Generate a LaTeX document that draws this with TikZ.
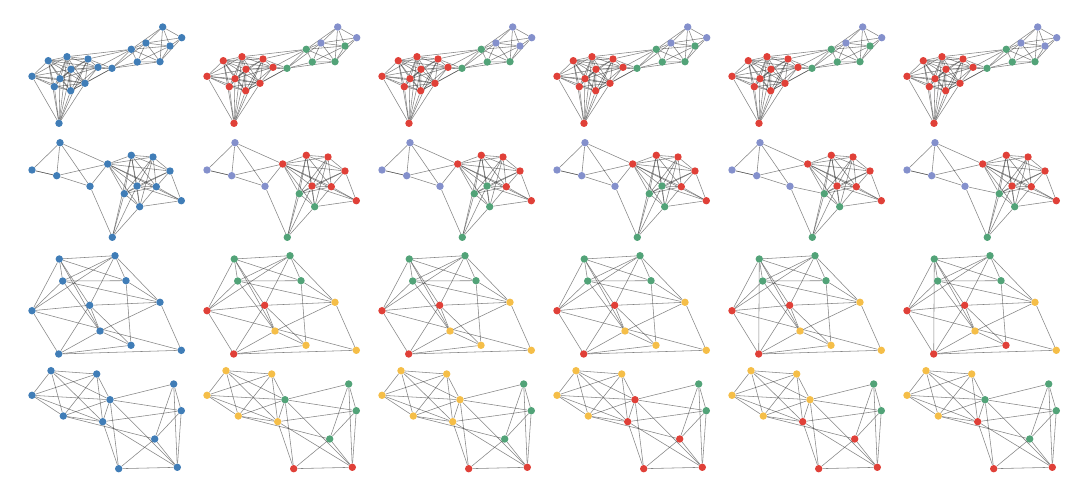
\documentclass[tikz,border=0pt]{standalone}
\usetikzlibrary{backgrounds}
\definecolor{cb}{RGB}{64,125,183}
\definecolor{cp}{RGB}{132,144,204}
\definecolor{cg}{RGB}{82,163,120}
\definecolor{cr}{RGB}{224,64,56}
\definecolor{cy}{RGB}{245,190,72}
\tikzset{
  vtx/.style={circle,inner sep=0pt,minimum size=7.4pt,draw=none},
  edge/.style={draw=black!80,line width=0.55pt,opacity=0.6}
}
\newcommand\assign[3]{\foreach \m in {#2}{\expandafter\xdef\csname K#1\m\endcsname{#3}}}
\newcommand\drawgraph[4]{%
  \foreach \n/\x/\y in #3 {%
    \edef\fc{\csname K#1#2\n\endcsname}%
    \node[vtx,fill=\fc] (\n-#1-#2) at ({\x+175*(#2-1)},{-\y}) {};
  }%
  \begin{pgfonlayer}{background}
  \foreach \ea/\eb in #4 {\draw[edge] (\ea-#1-#2) -- (\eb-#1-#2);}
  \end{pgfonlayer}
}
% ---------- row 1
\def\NodesOne{A/162.7/27, B/181.7/37.7, C/146/43, D/170/46, E/131.3/49.3, F/137.3/62, G/160/61.7, H/48.3/60.7, I/67/56.7, J/88/59, K/71/69.3, L/98/67.3, M/112/68.3, N/32/76.3, O/60/78.7, P/54.3/86.7, Q/70.7/90.7, R/85/83.3, S/59/123.3}
\def\EdgesOne{A/B,A/C,A/D,A/E,A/G,B/C,B/D,B/G,C/D,C/E,C/F,C/G,D/E,D/F,D/G,E/F,E/G,F/G,M/E,M/F,M/C,M/G,L/M,J/M,R/M,K/M,Q/M,L/E,J/E,I/E,H/I,H/J,H/K,H/L,H/N,H/O,H/P,H/Q,H/R,I/J,I/K,I/L,I/N,I/O,I/P,I/Q,I/R,J/K,J/L,J/O,J/Q,J/R,K/L,K/N,K/O,K/P,K/Q,K/R,L/O,L/R,L/Q,N/O,N/P,N/Q,N/R,O/P,O/Q,O/R,P/Q,P/R,Q/R,S/N,S/H,S/P,S/O,S/Q,S/R,S/K,S/I,S/J}
\assign{11}{A,B,C,D,E,F,G,H,I,J,K,L,M,N,O,P,Q,R,S}{cb}
\foreach \c in {2,4,5}{%
  \assign{1\c}{A,B,C}{cp}\assign{1\c}{D,E,F,G,M}{cg}\assign{1\c}{H,I,J,K,L,N,O,P,Q,R,S}{cr}}
\foreach \c in {3,6}{%
  \assign{1\c}{A,B,C,D}{cp}\assign{1\c}{E,F,G,M}{cg}\assign{1\c}{H,I,J,K,L,N,O,P,Q,R,S}{cr}}
% ---------- row 2
\def\NodesTwo{a/60/142.7, b/32/170, c/56.7/175.7, d/90/186.3, e/107.7/164, f/131.3/155.3, g/153/157, h/170/171, i/137/186, j/156.3/186.7, k/124.3/193.7, l/139.7/206.7, m/181.3/200.7, n/112.3/237.3}
\def\EdgesTwoA{a/b,a/c,a/d,a/e,b/c,b/c,c/e,c/d,d/n,d/e,e/f,e/g,e/h,e/i,e/k,e/j,e/l,e/m,f/g,f/h,f/i,f/k,f/l,f/j,g/h,g/i,g/j,g/k,g/l,h/i,h/j,h/m,h/k,i/j,i/k,i/l,i/m,j/l,j/m,j/k,k/l,k/n,l/n,l/m,i/n,f/n}
\def\EdgesTwoB{a/b,a/c,a/d,a/e,b/c,b/c,c/e,c/d,d/n,d/k,e/f,e/g,e/h,e/i,e/k,e/j,e/l,e/m,f/g,f/h,f/i,f/k,f/l,f/j,g/h,g/i,g/j,g/k,g/l,h/i,h/j,h/m,h/k,i/j,i/k,i/l,i/m,j/l,j/m,j/k,k/l,k/n,l/n,l/m,i/n,f/n}
\assign{21}{a,b,c,d,e,f,g,h,i,j,k,l,m,n}{cb}
\foreach \c in {2,5,6}{%
  \assign{2\c}{a,b,c,d}{cp}\assign{2\c}{e,f,g,h,i,j,m}{cr}\assign{2\c}{k,l,n}{cg}}
\foreach \c in {3,4}{%
  \assign{2\c}{a,b,c,d}{cp}\assign{2\c}{e,f,g,h,j,m}{cr}\assign{2\c}{i,k,l,n}{cg}}
% ---------- row 3
\def\NodesThree{p1/59.3/259, p2/115/255.7, p3/62.7/281, p4/126/280.7, p5/32/310.7, p6/89.7/305.3, p7/160/302.3, p8/100/331, p9/58.7/354, p10/131/345.3, p11/181.3/350.3}
\def\EdgesThreeA{p1/p2,p1/p3,p1/p4,p1/p5,p1/p6,p1/p8,p2/p3,p2/p4,p2/p7,p2/p6,p2/p5,p3/p4,p3/p5,p3/p8,p3/p7,p4/p7,p5/p6,p5/p9,p5/p11,p6/p7,p6/p9,p6/p8,p6/p10,p7/p8,p7/p11,p8/p9,p9/p10,p9/p11,p8/p10,p4/p10}
\def\EdgesThreeB{p1/p2,p1/p3,p1/p4,p1/p5,p1/p6,p1/p8,p1/p9,p2/p3,p2/p4,p2/p7,p2/p6,p2/p5,p3/p4,p3/p5,p3/p8,p3/p7,p4/p7,p5/p6,p5/p9,p5/p11,p6/p7,p6/p9,p6/p8,p6/p10,p7/p8,p7/p11,p8/p9,p9/p10,p9/p11,p8/p10,p4/p10}
\assign{31}{p1,p2,p3,p4,p5,p6,p7,p8,p9,p10,p11}{cb}
\foreach \c in {2,3,4,5}{%
  \assign{3\c}{p1,p2,p3,p4}{cg}\assign{3\c}{p5,p6,p9}{cr}\assign{3\c}{p7,p8,p10,p11}{cy}}
\assign{36}{p1,p2,p3,p4}{cg}\assign{36}{p5,p6,p9,p10}{cr}\assign{36}{p7,p8,p11}{cy}
% ---------- row 4
\def\NodesFour{q1/51/370.7, q2/96.7/374, q3/32/395.3, q4/110/399.7, q5/63.3/416, q6/102.7/421.7, q7/173.7/384, q8/181.3/410.7, q9/154.7/439, q10/118.7/468.7, q11/177.3/467.3}
\def\EdgesFour{q1/q2,q1/q3,q1/q4,q1/q5,q1/q6,q2/q3,q2/q5,q2/q6,q2/q4,q3/q4,q3/q5,q3/q6,q4/q5,q4/q6,q5/q6,q4/q7,q4/q8,q6/q8,q5/q9,q6/q10,q6/q11,q4/q11,q4/q10,q7/q8,q7/q9,q7/q11,q8/q9,q8/q11,q9/q10,q9/q11,q10/q11}
\assign{41}{q1,q2,q3,q4,q5,q6,q7,q8,q9,q10,q11}{cb}
\assign{42}{q1,q2,q3,q5,q6}{cy}\assign{42}{q4,q7,q8,q9}{cg}\assign{42}{q10,q11}{cr}
\assign{43}{q1,q2,q3,q4,q5,q6}{cy}\assign{43}{q7,q8,q9}{cg}\assign{43}{q10,q11}{cr}
\assign{44}{q1,q2,q3,q5}{cy}\assign{44}{q4,q6,q9,q10,q11}{cr}\assign{44}{q7,q8}{cg}
\assign{45}{q1,q2,q3,q4,q5}{cy}\assign{45}{q6,q9,q10,q11}{cr}\assign{45}{q7,q8}{cg}
\assign{46}{q1,q2,q3,q5}{cy}\assign{46}{q4,q7,q8,q9}{cg}\assign{46}{q6,q10,q11}{cr}
\begin{document}
\begin{tikzpicture}[x=1pt,y=1pt]
\begin{pgfonlayer}{background}
\fill[white] (0,0) rectangle (1080,-486);
\end{pgfonlayer}
\useasboundingbox (0,0) rectangle (1080,-486);
\foreach \c in {1,...,6}{\drawgraph{1}{\c}{\NodesOne}{\EdgesOne}}
\foreach \c in {1,2,3,4}{\drawgraph{2}{\c}{\NodesTwo}{\EdgesTwoA}}
\foreach \c in {5,6}{\drawgraph{2}{\c}{\NodesTwo}{\EdgesTwoB}}
\foreach \c in {1,2,3,4}{\drawgraph{3}{\c}{\NodesThree}{\EdgesThreeA}}
\foreach \c in {5,6}{\drawgraph{3}{\c}{\NodesThree}{\EdgesThreeB}}
\foreach \c in {1,...,6}{\drawgraph{4}{\c}{\NodesFour}{\EdgesFour}}
\end{tikzpicture}
\end{document}
